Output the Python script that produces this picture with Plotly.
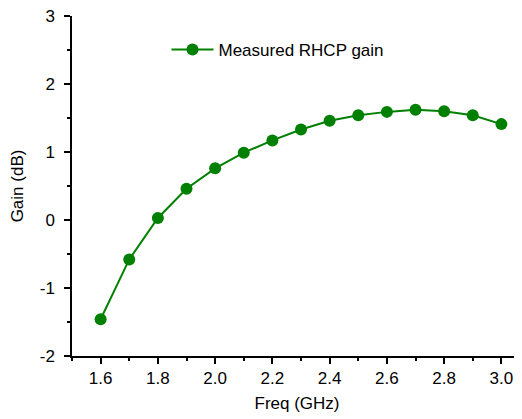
import plotly.graph_objects as go

freq = [1.6, 1.7, 1.8, 1.9, 2.0, 2.1, 2.2, 2.3, 2.4, 2.5, 2.6, 2.7, 2.8, 2.9, 3.0]
gain = [-1.46, -0.58, 0.03, 0.46, 0.76, 0.99, 1.17, 1.33, 1.46, 1.54, 1.59, 1.62, 1.60, 1.54, 1.41]
x_ticks = [1.6, 1.8, 2.0, 2.2, 2.4, 2.6, 2.8, 3.0]
x_tick_labels = ["1.6", "1.8", "2.0", "2.2", "2.4", "2.6", "2.8", "3.0"]
y_ticks = [-2, -1, 0, 1, 2, 3]
y_tick_labels = ["-2", "-1", "0", "1", "2", "3"]

green = "#008000"
font = "Liberation Sans, Arial, sans-serif"
fs = 17

fig = go.Figure()
fig.add_trace(go.Scatter(
    x=freq, y=gain, mode="lines+markers", name="Measured RHCP gain",
    line=dict(color=green, width=2),
    marker=dict(color=green, size=12),
))

axis_common = dict(
    showgrid=False, zeroline=False, showline=True, linecolor="black", linewidth=1.5,
    ticks="outside", ticklen=6, tickwidth=1.5, tickcolor="black",
    tickfont=dict(family=font, size=fs, color="black"),
    ticklabeloverflow="allow",
    mirror=False,
)

fig.update_layout(
    width=514, height=411,
    margin=dict(l=64, r=0, t=8, b=63),
    paper_bgcolor="white", plot_bgcolor="white",
    font=dict(family=font, size=fs, color="black"),
    showlegend=True,
    legend=dict(x=0.21, y=0.9, xanchor="left", yanchor="middle", itemwidth=42,
                bgcolor="rgba(0,0,0,0)", font=dict(family=font, size=fs, color="black")),
    xaxis=dict(range=[1.5, 3.072], tickvals=x_ticks, ticktext=x_tick_labels,
               title=dict(text="Freq (GHz)", font=dict(family=font, size=fs), standoff=10),
               minor=dict(dtick=0.1, tick0=1.5, ticks="outside", ticklen=3, tickwidth=1.5, tickcolor="black"),
               **axis_common),
    yaxis=dict(range=[-2, 3], tickvals=y_ticks, ticktext=y_tick_labels, ticklabelstandoff=6,
               title=dict(text="Gain (dB)", font=dict(family=font, size=fs), standoff=14),
               minor=dict(dtick=0.5, tick0=-2, ticks="outside", ticklen=3, tickwidth=1.5, tickcolor="black"),
               **axis_common),
)

fig.write_html("out.html")
